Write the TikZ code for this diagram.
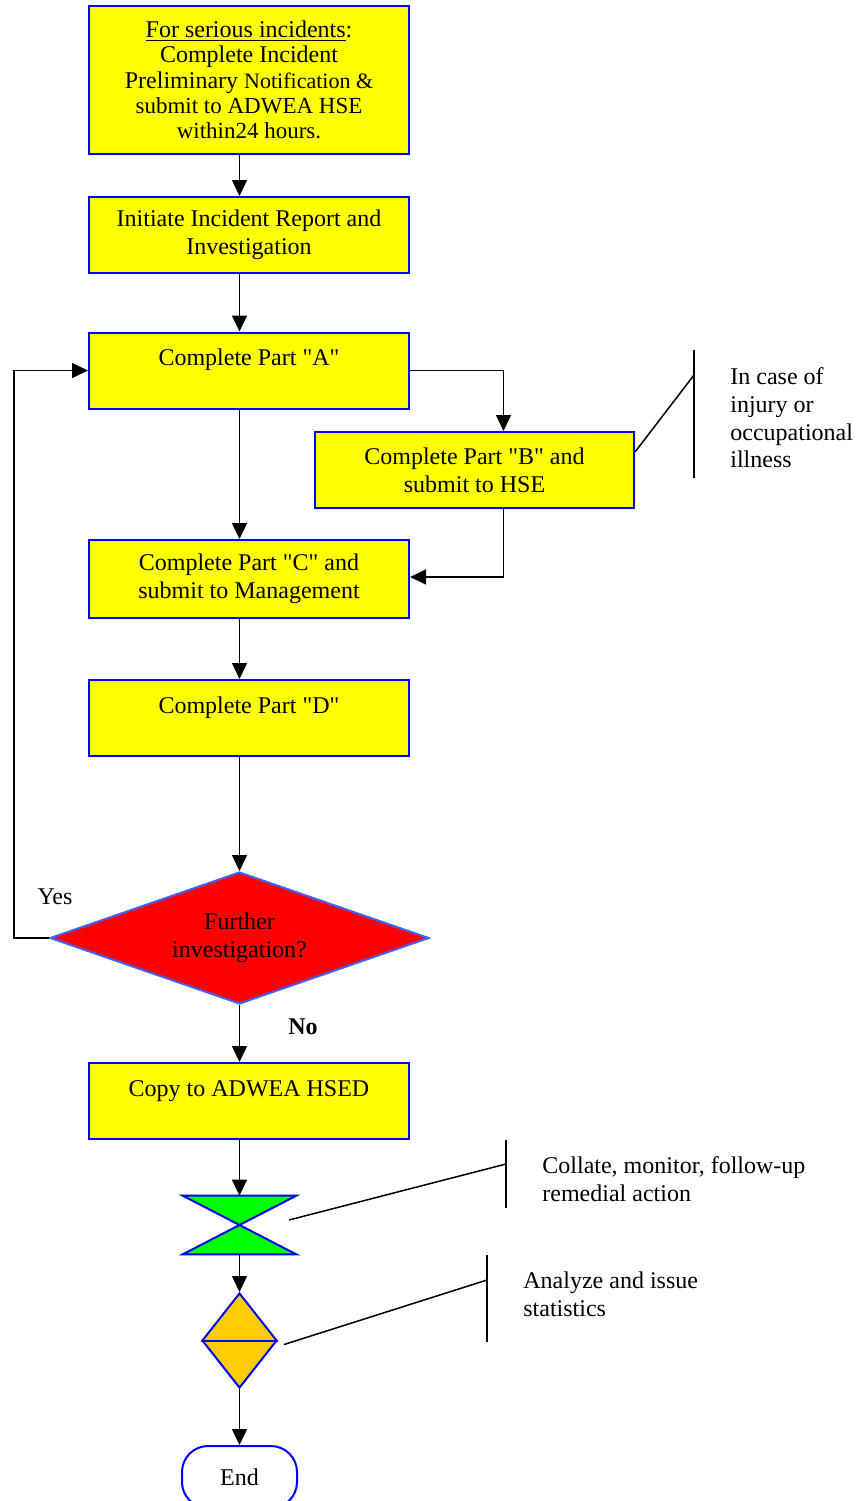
\documentclass[tikz,border=0pt]{standalone}
\usepackage{fontspec}
\setmainfont{Liberation Serif}[Ligatures=TeXOff]
\usetikzlibrary{shapes.geometric,arrows.meta}
\definecolor{bordblue}{RGB}{0,0,255}
\definecolor{diabord}{RGB}{60,100,255}
\definecolor{fillyel}{RGB}{255,255,0}
\definecolor{fillred}{RGB}{255,0,0}
\definecolor{fillgrn}{RGB}{0,255,0}
\definecolor{fillorg}{RGB}{255,204,0}
\newcommand{\sq}{\symbol{34}}
\begin{document}
\begin{tikzpicture}[x=0.5pt,y=-0.5pt,
  font=\fontsize{12}{13.8}\selectfont,
  procbox/.style={draw=bordblue,line width=1pt,fill=fillyel,minimum width=160pt,minimum height=38pt,inner sep=0pt,align=center},
  conn/.style={line width=0.75pt,draw=black},
  arr/.style={conn,-{Triangle[length=8pt,width=7.5pt]}},
  note/.style={anchor=west,align=left,inner sep=0pt}
]
\clip (0,0) rectangle (866,1501);
\useasboundingbox (0,0) rectangle (866,1501);

% boxes
\node[procbox,minimum height=74pt,font=\fontsize{12}{12.6}\selectfont] (b1) at (249,80)
  {\underline{For serious incidents}:\\Complete Incident\\Preliminary {\fontsize{11}{12}\selectfont Notification \&}\\{\fontsize{11.5}{12}\selectfont submit to ADWEA HSE}\\{\fontsize{11.5}{12}\selectfont within24 hours.}};
\node[procbox] (b2) at (249,235) {Initiate Incident Report and\\Investigation};
\node[procbox] (bA) at (249,370.5) {Complete Part \sq A\sq\\[-5pt]\strut};
\node[procbox,minimum width=159.5pt] (bB) at (474.5,470) {Complete Part \sq B\sq{} and\\submit to HSE};
\node[procbox,minimum height=39pt] (bC) at (249,579) {Complete Part \sq C\sq{} and\\submit to Management};
\node[procbox] (bD) at (249,718) {Complete Part \sq D\sq\\[-5pt]\strut};
\node[diamond,aspect=2.87,draw=diabord,line width=1pt,fill=fillred,minimum width=189.5pt,minimum height=66pt,inner sep=0pt,align=center] (dia) at (239.5,938) {Further\\investigation?};
\node[procbox] (bE) at (249,1101) {Copy to ADWEA HSED\\[-5pt]\strut};

% hourglass
\node[minimum width=56.5pt,minimum height=29pt,inner sep=0pt] (hg) at (239.5,1225) {};
\draw[draw=bordblue,line width=1pt,fill=fillgrn] (hg.north west) -- (hg.north east) -- (hg.south west) -- (hg.south east) -- cycle;
% small diamond
\node[diamond,draw=bordblue,line width=1pt,fill=fillorg,minimum width=37.5pt,minimum height=47.5pt,inner sep=0pt] (sd) at (239.5,1340.5) {};
\draw[draw=bordblue,line width=1pt] (sd.west) -- (sd.east);
% end terminal
\node[draw=bordblue,line width=1pt,fill=white,rounded corners=13pt,minimum width=57.5pt,minimum height=31pt,inner sep=0pt] (en) at (239.5,1477) {End};

% junction coordinates
\coordinate (jB) at (503.5,577);
\coordinate (loop) at (14,0);

% connectors
\draw[arr] (b1.south -| dia.north) -- (b2.north -| dia.north);
\draw[arr] (b2.south -| dia.north) -- (bA.north -| dia.north);
\draw[arr] (bA.south -| dia.north) -- (bC.north -| dia.north);
\draw[arr] (bA.east) -| (bB.north -| jB);
\draw[arr] (bB.south -| jB) -- (jB) -- (jB -| bC.east);
\draw[arr] (bC.south -| dia.north) -- (bD.north -| dia.north);
\draw[arr] (bD.south -| dia.north) -- (dia.north);
\draw[arr] (dia.west) -- (dia.west -| loop) |- (bA.west);
\draw[arr] (dia.south) -- (bE.north -| dia.south);
\draw[arr] (bE.south -| hg.north) -- (hg.north);
\draw[arr] (hg.south) -- (sd.north);
\draw[arr] (sd.south) -- (en.north);

\node[inner sep=0pt] (yes) at (55,897) {Yes};
\node[inner sep=0pt,font=\fontsize{12}{13.8}\selectfont\bfseries] (no) at (303,1027) {No};

% annotations
\coordinate (nB) at (694,375);
\draw[conn] (bB.east) ++(0,-18) -- (nB);
\draw[conn] (694,350) -- (694,478);
\node[note] (tB) at (730,418) {In case of\\injury or\\occupational\\illness};

\coordinate (nC) at (506,1164);
\draw[conn] (hg.center) ++(49.5,-5) -- (nC);
\draw[conn] (506,1140) -- (506,1208);
\node[note] (tC) at (542,1179) {Collate, monitor, follow-up\\remedial action};

\coordinate (nD) at (487,1280);
\draw[conn] (sd.east) ++(6,4) -- (nD);
\draw[conn] (487,1255) -- (487,1342);
\node[note] (tD) at (523,1294) {Analyze and issue\\statistics};
\end{tikzpicture}
\end{document}
